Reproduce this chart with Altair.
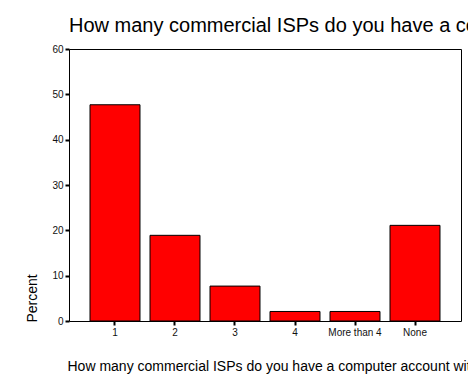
import altair as alt
import pandas as pd

categories = ["1", "2", "3", "4", "More than 4", "None"]
percents = [47.7, 18.9, 7.7, 2.1, 2.1, 21.1]
y_ticks = [0, 10, 20, 30, 40, 50, 60]

df = pd.DataFrame({"cat": categories, "pct": percents})

FONT = "Liberation Sans"

chart = alt.Chart(df).mark_bar(
    color="#FF0000", stroke="black", strokeWidth=1
).encode(
    x=alt.X(
        "cat:N",
        sort=categories,
        scale=alt.Scale(paddingInner=0.1667, paddingOuter=0.35),
        axis=alt.Axis(
            title="How many commercial ISPs do you have a computer account with",
            titleFont=FONT, titleFontSize=14, titleFontWeight="normal",
            titleColor="black", titleAnchor="start", titleAlign="left",
            titleBaseline="alphabetic", titleX=-2, titleY=49,
            labelAngle=0, labelFont=FONT, labelFontSize=10, labelColor="#111111",
            labelPadding=2, tickSize=4, tickWidth=2, tickColor="black",
            domain=False, grid=False,
        ),
    ),
    y=alt.Y(
        "pct:Q",
        scale=alt.Scale(domain=[0, 60], nice=False),
        axis=alt.Axis(
            values=y_ticks,
            title="Percent",
            titleFont=FONT, titleFontSize=14, titleFontWeight="normal",
            titleColor="black", titleAngle=-90, titleAlign="left",
            titleBaseline="middle", titleX=-37, titleY=273,
            labelFont=FONT, labelFontSize=10, labelColor="#111111",
            labelPadding=2, tickSize=4, tickWidth=2, tickColor="black",
            domain=False, grid=False,
        ),
    ),
).properties(
    width=392,
    height=272,
    title=alt.TitleParams(
        "How many commercial ISPs do you have a computer account with",
        font=FONT, fontSize=20, fontWeight="normal", color="black",
        anchor="start", frame="group", offset=8,
    ),
    autosize=alt.AutoSizeParams(type="none"),
    padding={"left": 61, "top": 41, "right": 7, "bottom": 60},
).configure(
    background="white"
).configure_view(
    stroke="black", strokeWidth=1
)

chart.save("out.html", embed_options={"renderer": "svg", "actions": False})
